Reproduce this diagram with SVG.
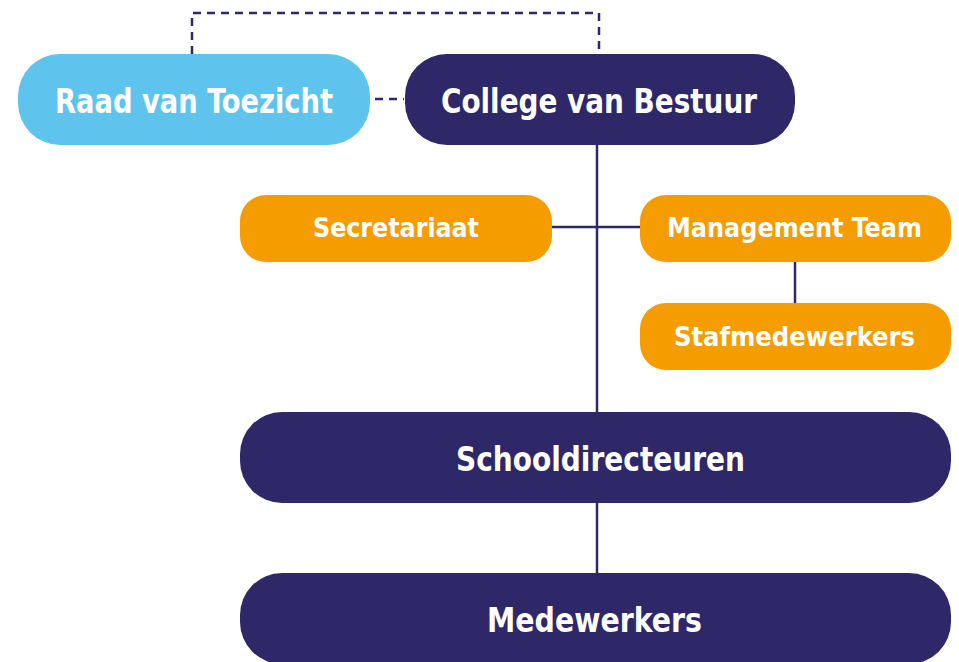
<svg xmlns="http://www.w3.org/2000/svg" width="959" height="662" viewBox="0 0 959 662">
<style>
.navy{fill:#2E2868}
.blue{fill:#5EC4EE}
.orange{fill:#F59C00}
text{font-family:"DejaVu Sans Condensed","DejaVu Sans","Liberation Sans",sans-serif;font-weight:bold;fill:#FFFFFF;text-anchor:start}
.big{font-size:33px}
.small{font-size:27px}
.line{stroke:#2E2868;stroke-width:2.5;fill:none}
.dash{stroke:#2E2868;stroke-width:2.5;fill:none;stroke-dasharray:8 6}
</style>
<rect width="959" height="662" fill="#FFFFFF"/>
<g id="connectors">
<path class="dash" d="M192,54 V13 H599 V54"/>
<path class="dash" d="M375,99 H404"/>
<path class="line" d="M597,145 V412"/>
<path class="line" d="M552,227 H640"/>
<path class="line" d="M795,261 V303"/>
<path class="line" d="M597,503 V573"/>
</g>
<g id="raad">
<rect class="blue" x="18" y="54" width="352" height="91" rx="42" ry="42"/>
<text class="big" x="55" y="113" textLength="278" lengthAdjust="spacingAndGlyphs">Raad van Toezicht</text>
</g>
<g id="college">
<rect class="navy" x="405" y="54" width="390" height="91" rx="42" ry="42"/>
<text class="big" x="441" y="113" textLength="316" lengthAdjust="spacingAndGlyphs">College van Bestuur</text>
</g>
<g id="secretariaat">
<rect class="orange" x="240" y="195" width="312" height="67" rx="26" ry="26"/>
<text class="small" x="313" y="237" textLength="166" lengthAdjust="spacingAndGlyphs">Secretariaat</text>
</g>
<g id="management-team">
<rect class="orange" x="640" y="195" width="311" height="67" rx="26" ry="26"/>
<text class="small" x="667" y="237" textLength="255" lengthAdjust="spacingAndGlyphs">Management Team</text>
</g>
<g id="stafmedewerkers">
<rect class="orange" x="640" y="303" width="311" height="67" rx="26" ry="26"/>
<text class="small" x="674" y="346" textLength="241" lengthAdjust="spacingAndGlyphs">Stafmedewerkers</text>
</g>
<g id="schooldirecteuren">
<rect class="navy" x="240" y="412" width="711" height="91" rx="42" ry="42"/>
<text class="big" x="456" y="471" textLength="289" lengthAdjust="spacingAndGlyphs">Schooldirecteuren</text>
</g>
<g id="medewerkers">
<rect class="navy" x="240" y="573" width="711" height="91" rx="42" ry="42"/>
<text class="big" x="487" y="632" textLength="215" lengthAdjust="spacingAndGlyphs">Medewerkers</text>
</g>
</svg>
